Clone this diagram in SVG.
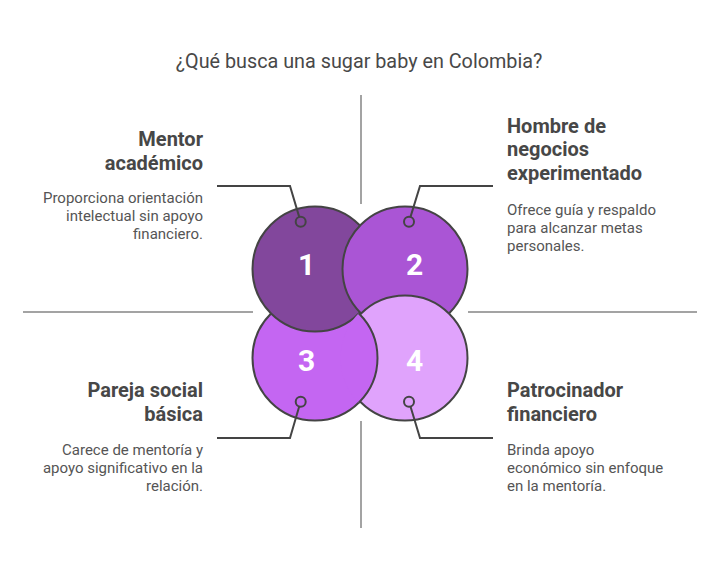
<svg xmlns="http://www.w3.org/2000/svg" width="721" height="576" viewBox="0 0 721 576">
<style>
.bg{fill:#ffffff}
.grid{stroke:#a3a3a3;stroke-width:2;fill:none}
.circ{stroke:#444444;stroke-width:2}
.num{font-family:Roboto,"Liberation Sans",sans-serif;font-weight:700;font-size:30px;fill:#ffffff;text-anchor:middle}
.lbl{font-family:Roboto,"Liberation Sans",sans-serif;font-weight:700;font-size:20px;fill:#474747}
.desc{font-family:Roboto,"Liberation Sans",sans-serif;font-size:15px;fill:#555555}
.title{font-family:Roboto,"Liberation Sans",sans-serif;font-size:19.8px;fill:#484848;text-anchor:middle}
.end{text-anchor:end}
.conn{stroke:#444444;stroke-width:2;fill:none}
.dot{stroke:#444444;stroke-width:2;fill:none}
</style>
<defs>
<clipPath id="clip4"><circle cx="405" cy="358" r="64.5"/></clipPath>
</defs>
<rect class="bg" x="0" y="0" width="721" height="576"/>
<text class="title" x="359" y="68">¿Qué busca una sugar baby en Colombia?</text>
<g id="grid">
<line class="grid" x1="361" y1="95" x2="361" y2="204"/>
<line class="grid" x1="361" y1="421" x2="361" y2="528"/>
<line class="grid" x1="23" y1="312" x2="253" y2="312"/>
<line class="grid" x1="468" y1="312" x2="697" y2="312"/>
</g>
<g id="node-3">
<circle id="c3" class="circ" cx="315" cy="358" r="62.5" fill="#c466f2"/>
<text class="num" x="306.5" y="370.5">3</text>
<text class="lbl end" x="203" y="397">Pareja social</text>
<text class="lbl end" x="203" y="420.5">básica</text>
<text class="desc end" x="203" y="455">Carece de mentoría y</text>
<text class="desc end" x="203" y="473">apoyo significativo en la</text>
<text class="desc end" x="203" y="491">relación.</text>
</g>
<g id="node-1">
<circle class="circ" cx="315" cy="269" r="62.5" fill="#82479c"/>
<text class="num" x="306.5" y="275">1</text>
<text class="lbl end" x="203" y="146">Mentor</text>
<text class="lbl end" x="203" y="169.5">académico</text>
<text class="desc end" x="203" y="203">Proporciona orientación</text>
<text class="desc end" x="203" y="221">intelectual sin apoyo</text>
<text class="desc end" x="203" y="239">financiero.</text>
</g>
<g id="node-2">
<circle class="circ" cx="405" cy="269" r="62.5" fill="#aa55d5"/>
<text class="num" x="414.5" y="275">2</text>
<text class="lbl" x="507" y="132.5">Hombre de</text>
<text class="lbl" x="507" y="156">negocios</text>
<text class="lbl" x="507" y="180">experimentado</text>
<text class="desc" x="507" y="215">Ofrece guía y respaldo</text>
<text class="desc" x="507" y="233">para alcanzar metas</text>
<text class="desc" x="507" y="251">personales.</text>
</g>
<g id="node-4">
<circle class="circ" cx="405" cy="358" r="62.5" fill="#e0a3fc"/>
<text class="num" x="414.5" y="370.5">4</text>
<text class="lbl" x="507" y="397">Patrocinador</text>
<text class="lbl" x="507" y="420.5">financiero</text>
<text class="desc" x="507" y="455">Brinda apoyo</text>
<text class="desc" x="507" y="473">económico sin enfoque</text>
<text class="desc" x="507" y="491">en la mentoría.</text>
</g>
<g id="overlap-3-over-4" clip-path="url(#clip4)">
<circle class="circ" cx="315" cy="358" r="62.5" fill="#c466f2"/>
</g>
<g id="connectors">
<circle class="dot" cx="300.7" cy="221.7" r="5"/>
<circle class="dot" cx="409" cy="221.7" r="5"/>
<circle class="dot" cx="300.7" cy="401.7" r="5"/>
<circle class="dot" cx="409" cy="401.7" r="5"/>
<polyline class="conn" points="299.2,216.9 290,186 217,186"/>
<polyline class="conn" points="410.5,216.9 420,186 493,186"/>
<polyline class="conn" points="299.2,406.5 290,438 217,438"/>
<polyline class="conn" points="410.5,406.5 420,438 493,438"/>
</g>
</svg>
